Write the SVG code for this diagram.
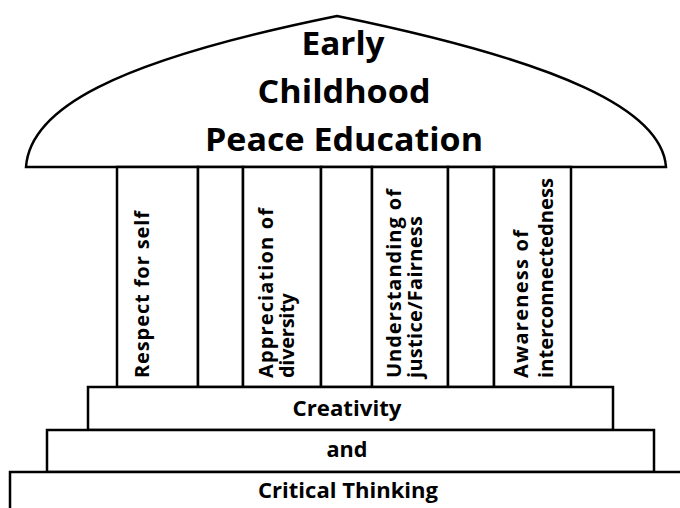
<svg xmlns="http://www.w3.org/2000/svg" width="680" height="508" viewBox="0 0 680 508">
<style>
.s{fill:#fff;stroke:#000;stroke-width:2.5}
.t{font-family:"Open Sans","Liberation Sans",sans-serif;font-weight:bold;fill:#000}
.h{font-size:32px;text-anchor:middle}
.v{font-size:20px}
.b{font-size:21px;text-anchor:middle}
</style>
<rect width="680" height="508" fill="#fff"/>
<g id="roof">
<path class="s" stroke-width="2" d="M26,167 C30,110 110,62 337,16 C562,62 662,110 666,167 Z"/>
<text class="t h" x="343" y="55" textLength="83" lengthAdjust="spacingAndGlyphs">Early</text>
<text class="t h" x="344" y="103" textLength="173" lengthAdjust="spacingAndGlyphs">Childhood</text>
<text class="t h" x="344" y="151" textLength="278" lengthAdjust="spacingAndGlyphs">Peace Education</text>
</g>
<g id="columns">
<rect class="s" x="117" y="167" width="81" height="220"/>
<rect class="s" x="198" y="167" width="45" height="220"/>
<rect class="s" x="243" y="167" width="78" height="220"/>
<rect class="s" x="321" y="167" width="51" height="220"/>
<rect class="s" x="372" y="167" width="76" height="220"/>
<rect class="s" x="448" y="167" width="46" height="220"/>
<rect class="s" x="494" y="167" width="77" height="220"/>
</g>
<g id="col1"><text class="t v" transform="translate(149,378) rotate(-90)" textLength="167" lengthAdjust="spacing">Respect  for self</text></g>
<g id="col2"><text class="t v" transform="translate(273,378) rotate(-90)" textLength="170" lengthAdjust="spacing">Appreciation  of</text><text class="t v" transform="translate(294,378) rotate(-90)" textLength="85" lengthAdjust="spacing">diversity</text></g>
<g id="col3"><text class="t v" transform="translate(401,378) rotate(-90)" textLength="189" lengthAdjust="spacing">Understanding  of</text><text class="t v" transform="translate(422,378) rotate(-90)" textLength="162" lengthAdjust="spacing">justice/Fairness</text></g>
<g id="col4"><text class="t v" transform="translate(528,378) rotate(-90)" textLength="148" lengthAdjust="spacing">Awareness  of</text><text class="t v" transform="translate(553,378) rotate(-90)" textLength="200" lengthAdjust="spacingAndGlyphs">interconnectedness</text></g>
<g id="step1"><rect class="s" x="88" y="387" width="525" height="43"/><text class="t b" x="347" y="416" textLength="109" lengthAdjust="spacingAndGlyphs">Creativity</text></g>
<g id="step2"><rect class="s" x="47" y="430" width="607" height="42"/><text class="t b" x="347" y="457" textLength="41" lengthAdjust="spacingAndGlyphs">and</text></g>
<g id="step3"><rect class="s" x="10" y="472" width="680" height="50"/><text class="t b" x="348" y="498" textLength="180" lengthAdjust="spacingAndGlyphs">Critical Thinking</text></g>
</svg>
